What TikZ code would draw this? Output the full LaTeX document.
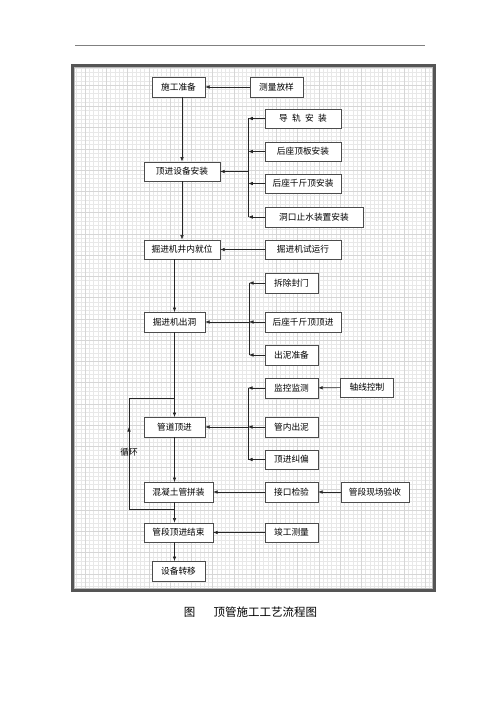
\documentclass[tikz,border=0pt]{standalone}
\usepackage{fontspec}
\newfontfamily\cjk{Noto Sans CJK SC}
\usepackage{tikz}
\usetikzlibrary{arrows.meta}
\definecolor{framegray}{RGB}{85,85,85}
\definecolor{gridminor}{RGB}{232,232,232}
\definecolor{gridmajor}{RGB}{214,214,214}
\newcommand{\widthshort}{53pt}
\newcommand{\widthmid}{61pt}
\newcommand{\widthwide}{69pt}
\newcommand{\widthlong}{76pt}
\tikzset{
    common/.style={draw=black!70, fill=white, rectangle, minimum height=19.5pt, inner sep=0pt,
        font=\cjk\fontsize{8.7}{10}\selectfont},
    box-s/.style={common, minimum width=\widthshort},
    box-m/.style={common, minimum width=\widthmid},
    box-w/.style={common, minimum width=\widthwide},
    box-l/.style={common, minimum width=\widthlong},
    flow/.style={-{Latex[length=4.5pt,width=3.6pt]}, black!85, line width=0.6pt},
    plain/.style={black!85, line width=0.6pt}
}

\begin{document}
\begin{tikzpicture}[x=1pt, y=-1pt]
    \useasboundingbox (0,0) rectangle (500,708);

    % page rule
    \coordinate (rule-l) at (75,45);
    \coordinate (rule-r) at (425,45);
    \draw[gray, line width=0.8pt] (rule-l) -- (rule-r);

    % grid paper and frame
    \draw[gridminor, line width=0.4pt, step=4.25pt] (73,66) grid (434,590);
    \draw[gridmajor, line width=0.4pt, step=21.25pt] (73,66) grid (434,590);
    \draw[framegray, line width=2.5pt] (72.5,65.5) rectangle (434.5,590.5);
    \draw[gray!55, line width=0.8pt] (74.5,67.5) rectangle (432.5,588.5);

    % main column
    \node[box-s] (prep) at (178.5,87) {施工准备};
    \node[box-l] (equip) at (182,171.5) {顶进设备安装};
    \node[box-l] (place) at (182,249.5) {掘进机井内就位};
    \node[box-m] (exit) at (174.5,322) {掘进机出洞};
    \node[box-m] (jacking) at (174.5,427) {管道顶进};
    \node[box-w] (assemble) at (178.5,492) {混凝土管拼装};
    \node[box-w] (finish) at (178.5,532.5) {管段顶进结束};
    \node[box-s] (move) at (178.5,571) {设备转移};

    % side column
    \node[box-s] (survey) at (276.5,87) {测量放样};
    \node[box-l] (rail) at (303,118.5) {导\hspace{0.5em}轨\hspace{0.5em}安\hspace{0.5em}装};
    \node[box-l] (plate) at (303,151.5) {后座顶板安装};
    \node[box-l] (jack) at (303,183.5) {后座千斤顶安装};
    \node[common, minimum width=98pt] (seal) at (314,217) {洞口止水装置安装};
    \node[box-l] (trial) at (303,249.5) {掘进机试运行};
    \node[box-s] (door) at (291.5,283) {拆除封门};
    \node[box-l] (push) at (303,322) {后座千斤顶顶进};
    \node[box-s] (mud) at (291.5,355) {出泥准备};
    \node[box-s] (monitor) at (291.5,388) {监控监测};
    \node[box-s] (inmud) at (291.5,427) {管内出泥};
    \node[box-s] (correct) at (291.5,459.5) {顶进纠偏};
    \node[box-s] (joint) at (291.5,492) {接口检验};
    \node[box-s] (final) at (291.5,532.5) {竣工测量};

    % far column
    \node[box-s] (axis) at (367,387.5) {轴线控制};
    \node[common, minimum width=68pt] (accept) at (375,492) {管段现场验收};

    % buses
    \coordinate (bus1-top) at (248.3,118.5);
    \coordinate (bus1-bot) at (248.3,217);
    \coordinate (bus2-top) at (249,283);
    \coordinate (bus2-bot) at (249,355);
    \coordinate (bus3-top) at (248,388);
    \coordinate (bus3-bot) at (248,459.5);

    \draw[plain] (bus1-top) -- (bus1-bot);
    \draw[plain] (bus2-top) -- (bus2-bot);
    \draw[plain] (bus3-top) -- (bus3-bot);

    \draw[flow] (rail.west) -- (rail.west -| bus1-top);
    \draw[flow] (plate.west) -- (plate.west -| bus1-top);
    \draw[flow] (jack.west) -- (jack.west -| bus1-top);
    \draw[flow] (seal.west) -- (seal.west -| bus1-top);
    \draw[flow] (equip.east -| bus1-top) -- (equip.east);

    \draw[flow] (door.west) -- (door.west -| bus2-top);
    \draw[flow] (push.west) -- (push.west -| bus2-top);
    \draw[flow] (mud.west) -- (mud.west -| bus2-top);
    \draw[flow] (exit.east -| bus2-top) -- (exit.east);

    \draw[flow] (monitor.west) -- (monitor.west -| bus3-top);
    \draw[flow] (inmud.west) -- (inmud.west -| bus3-top);
    \draw[flow] (correct.west) -- (correct.west -| bus3-top);
    \draw[flow] (jacking.east -| bus3-top) -- (jacking.east);

    % main flow
    \draw[flow] (survey) -- (prep);
    \draw[flow] (prep.south -| equip) -- (equip.north);
    \draw[flow] (equip) -- (place);
    \draw[flow] (trial) -- (place);
    \draw[flow] (place.south -| exit) -- (exit.north);
    \draw[flow] (exit) -- (jacking);
    \draw[flow] (axis) -- (monitor);
    \draw[flow] (jacking.south) -- (jacking.south |- assemble.north);
    \draw[flow] (accept) -- (joint);
    \draw[flow] (joint) -- (assemble);
    \draw[flow] (jacking.south |- assemble.south) -- (jacking.south |- finish.north);
    \draw[flow] (final) -- (finish);
    \draw[flow] (jacking.south |- finish.south) -- (jacking.south |- move.north);

    % loop back
    \coordinate (loop-start) at (174.5,509);
    \coordinate (loop-sw) at (129,509);
    \coordinate (loop-mid) at (129,427);
    \coordinate (loop-nw) at (129,398);
    \coordinate (loop-end) at (174.5,398);
    \draw[plain] (loop-start) -- (loop-sw) -- (loop-nw) -- (loop-end);
    \draw[flow] (loop-sw) -- (loop-mid);
    \node[font=\cjk\fontsize{8.7}{10}\selectfont, inner sep=0pt] (loop-label) at (129,452) {循环};

    % caption
    \node[font=\cjk\fontsize{11.5}{13}\selectfont, inner sep=0pt] (caption) at (250.5,612)
        {图\hspace{1.6em}顶管施工工艺流程图};
\end{tikzpicture}
\end{document}
